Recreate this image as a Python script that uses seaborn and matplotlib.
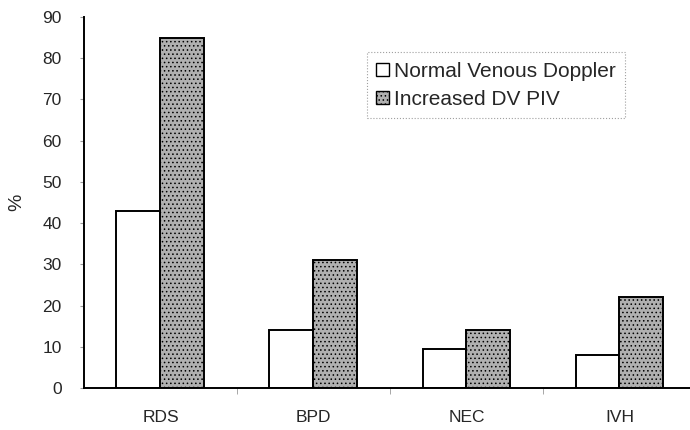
import pandas as pd
import seaborn as sns
import matplotlib.pyplot as plt

# Données (%)
categories = ["RDS", "BPD", "NEC", "IVH"]
normal_venous = [43, 14, 9.5, 8]
increased_dv = [85, 31, 14, 22]
series_names = ["Normal Venous Doppler", "Increased DV PIV"]

df = pd.DataFrame({
    "Complication": categories * 2,
    "Pourcentage": normal_venous + increased_dv,
    "Groupe": [series_names[0]] * 4 + [series_names[1]] * 4,
})

sns.set_style("white")
plt.rcParams['font.family'] = ['Liberation Sans', 'DejaVu Sans']
plt.rcParams['hatch.color'] = '#8c8c8c'
plt.rcParams['hatch.linewidth'] = 0.6

fig = plt.figure(figsize=(6.9, 4.3), dpi=100)
ax = fig.add_axes([0.1217, 0.0977, 0.887, 0.863])

sns.barplot(
    data=df, x="Complication", y="Pourcentage", hue="Groupe",
    palette={series_names[0]: "white", series_names[1]: "#b0b0b0"},
    width=0.575, edgecolor="black", linewidth=1.4, ax=ax, legend=True,
)

# texture grise des barres "Increased"
for patch in ax.patches[4:8]:
    patch.set_hatch("....")

ax.set_xlim(-0.5, 3.5)
ax.set_ylim(0, 90)
ax.set_yticks(range(0, 91, 10))
ax.set_xlabel("")
ax.set_ylabel("%", fontsize=14, labelpad=12)

for side in ["top", "right"]:
    ax.spines[side].set_visible(False)
for side in ["left", "bottom"]:
    ax.spines[side].set_color("black")
    ax.spines[side].set_linewidth(1.4)

ax.tick_params(axis="y", labelsize=12.5, length=3, pad=13, left=True, color="#999999")
ax.tick_params(axis="x", labelsize=12.5, length=0, pad=16)
ax.set_xticks([0.5, 1.5, 2.5], minor=True)
ax.tick_params(axis="x", which="minor", length=4, color="#999999", bottom=True)

handles, labels = ax.get_legend_handles_labels()
leg = ax.legend(handles, labels, loc="upper left", bbox_to_anchor=(0.462, 0.905),
                fontsize=15, frameon=True, fancybox=False, handlelength=0.6,
                handleheight=0.6, handletextpad=0.25, labelspacing=0.45,
                borderpad=0.45, borderaxespad=0)
leg.get_frame().set_linestyle(":")
leg.get_frame().set_edgecolor("#888888")
leg.get_frame().set_linewidth(0.8)
for h in leg.legend_handles:
    h.set_linewidth(1.0)
leg.legend_handles[1].set_hatch("....")

fig.savefig("out.png", dpi=100)
